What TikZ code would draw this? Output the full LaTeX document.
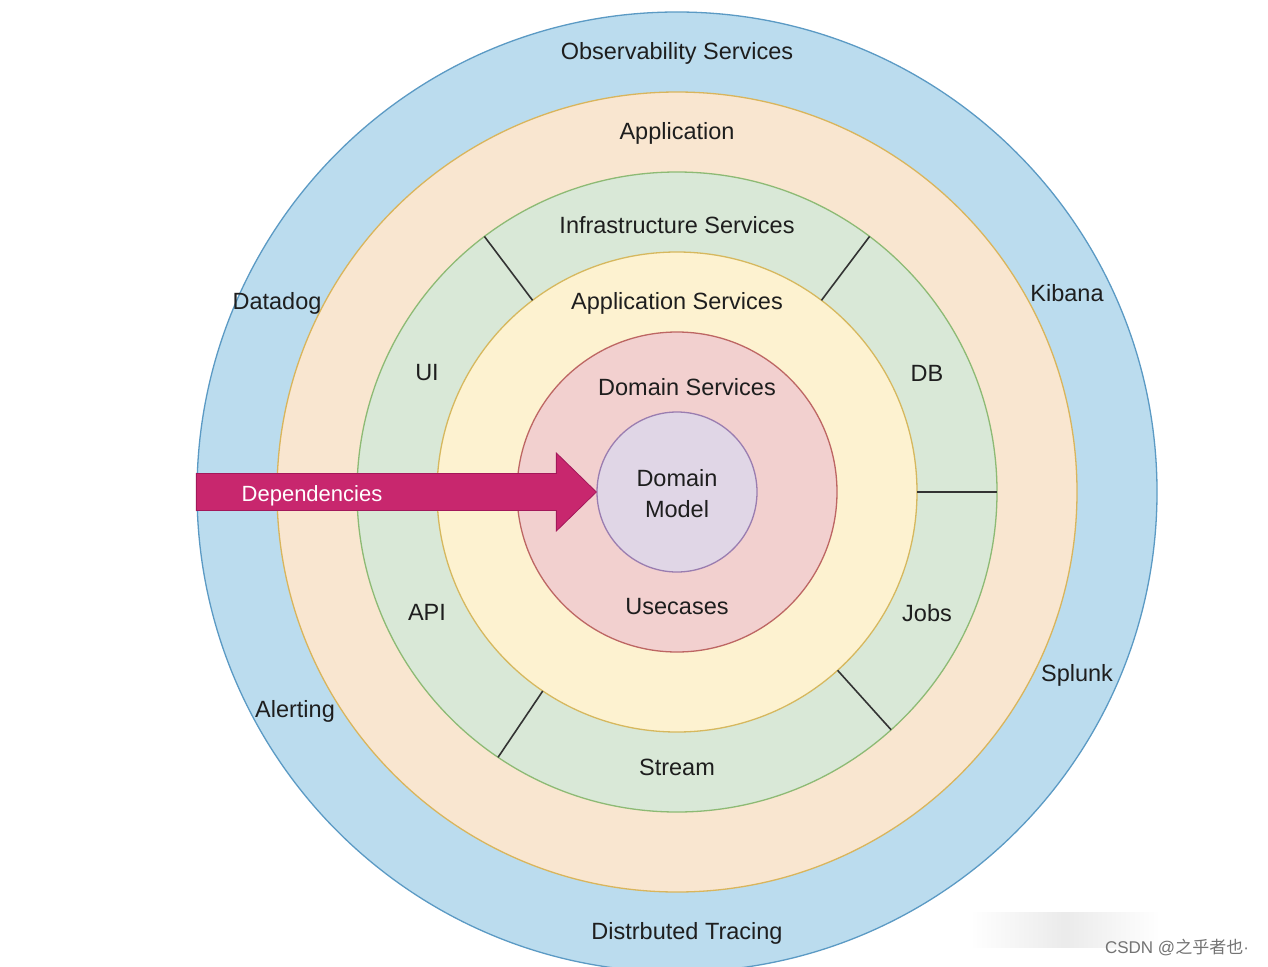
\documentclass[tikz,border=0pt]{standalone}
\usepackage{fontspec}
\setmainfont{Liberation Sans}
\newfontfamily\cjk{Noto Sans CJK SC}
\usetikzlibrary{calc}
\definecolor{obsfill}{HTML}{BBDCEE}
\definecolor{obsdraw}{HTML}{5B9AC4}
\definecolor{appfill}{HTML}{F9E6D0}
\definecolor{appdraw}{HTML}{D9B55C}
\definecolor{infrafill}{HTML}{D9E8D7}
\definecolor{infradraw}{HTML}{8DBA74}
\definecolor{asfill}{HTML}{FDF2D0}
\definecolor{asdraw}{HTML}{D6B85E}
\definecolor{dsfill}{HTML}{F2D0CF}
\definecolor{dsdraw}{HTML}{BD6663}
\definecolor{dmfill}{HTML}{E0D6E6}
\definecolor{dmdraw}{HTML}{9A7DB0}
\definecolor{arrowfill}{HTML}{C8276E}
\definecolor{arrowdraw}{HTML}{A3185A}
\definecolor{txt}{HTML}{1E1E1E}
\tikzset{
  ring/.style={circle, inner sep=0pt, line width=1.3pt},
  lbl/.style={font=\fontsize{23.5}{27}\selectfont, text=txt, inner sep=0pt, align=center, yshift=-2pt},
  divider/.style={draw=black!80, line width=1.6pt},
}
\begin{document}
\begin{tikzpicture}[x=1pt,y=-1pt]
\useasboundingbox (0,0) rectangle (1268,966);
\fill[white] (0,0) rectangle (1268,966);
\coordinate (c) at (677,492);
\node[ring, minimum size=960pt, fill=obsfill, draw=obsdraw] (obs) at (c) {};
\node[ring, minimum size=800pt, fill=appfill, draw=appdraw] (app) at (c) {};
\node[ring, minimum size=640pt, fill=infrafill, draw=infradraw] (infra) at (c) {};
\node[ring, minimum size=480pt, fill=asfill, draw=asdraw] (as) at (c) {};
\node[ring, minimum size=320pt, fill=dsfill, draw=dsdraw] (ds) at (c) {};
\node[ring, minimum size=160pt, fill=dmfill, draw=dmdraw] (dm) at (c) {};
% dividers in infrastructure ring
\foreach \a in {127,53,0,-48,-124}
  \draw[divider] ($(c)+(\a:240pt)$) -- ($(c)+(\a:320pt)$);
% dependencies arrow
\coordinate (tail) at (obs.west);
\coordinate (tip) at (dm.west);
\fill[arrowfill, draw=arrowdraw, line width=0.8pt]
  ($(tail)+(0,-18.5)$) -- ($(tip)+(-40,-18.5)$) -- ($(tip)+(-40,-39)$) -- (tip)
  -- ($(tip)+(-40,39)$) -- ($(tip)+(-40,18.5)$) -- ($(tail)+(0,18.5)$) -- cycle;
\node[lbl, text=white, font=\fontsize{22}{26}\selectfont] (dep) at (312,494) {Dependencies};
% labels
\node[lbl] (tobs) at (677,51) {Observability Services};
\node[lbl] (tapp) at (677,131) {Application};
\node[lbl] (tinfra) at (677,223) {Infrastructure Services};
\node[lbl] (tas) at (677,301) {Application Services};
\node[lbl] (tds) at (687,385) {Domain Services};
\node[lbl, font=\fontsize{23.5}{31}\selectfont] (tdm) at (677,492) {Domain\\Model};
\node[lbl] (tuse) at (677,605) {Usecases};
\node[lbl] (tui) at (427,371) {UI};
\node[lbl] (tdb) at (927,371) {DB};
\node[lbl] (tapi) at (427,610) {API};
\node[lbl] (tjobs) at (927,611) {Jobs};
\node[lbl] (tstream) at (677,765) {Stream};
\node[lbl] (tdatadog) at (277,301) {Datadog};
\node[lbl] (tkibana) at (1067,291) {Kibana};
\node[lbl] (tsplunk) at (1077,673) {Splunk};
\node[lbl] (talert) at (295,709) {Alerting};
\node[lbl] (ttrace) at (687,931) {Distrbuted Tracing};
% watermark
\shade[left color=white, right color=white, middle color=black!8] (970,912) rectangle (1160,947);
\node[font=\fontsize{17}{20}\selectfont, text=black!55, inner sep=0pt] (wm) at (1177,947) {CSDN @{\cjk 之乎者也}·};
\end{tikzpicture}
\end{document}
